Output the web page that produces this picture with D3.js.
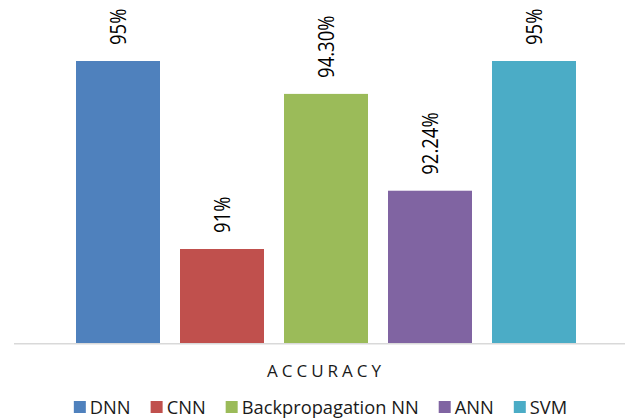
<!DOCTYPE html>
<html>
<head>
<meta charset="utf-8">
<script src="https://cdn.jsdelivr.net/npm/d3@7"></script>
<style>
  html, body { margin: 0; padding: 0; background: #fff; }
  svg { display: block; font-family: "Open Sans", sans-serif; }
</style>
</head>
<body>
<div id="chart"></div>
<script>
// chart data
var series = ["DNN", "CNN", "Backpropagation NN", "ANN", "SVM"];
var values = [95, 91, 94.30, 92.24, 95];
var labels = ["95%", "91%", "94.30%", "92.24%", "95%"];
var colors = ["#4F81BD", "#C0504D", "#9BBB59", "#8064A2", "#4BACC6"];
var category = "ACCURACY";

var width = 625, height = 419;
var baseY = 343;

var svg = d3.select("#chart").append("svg")
    .attr("width", width)
    .attr("height", height);

var x = d3.scaleBand()
    .domain(series)
    .range([66, 586])
    .paddingInner(20 / 104)
    .paddingOuter(10 / 104);

var y = d3.scaleLinear()
    .domain([89, 96])
    .range([baseY, 14]);

// bars
svg.append("g").selectAll("rect")
    .data(series)
    .enter().append("rect")
    .attr("x", function(d) { return x(d); })
    .attr("y", function(d, i) { return y(values[i]); })
    .attr("width", x.bandwidth())
    .attr("height", function(d, i) { return baseY - y(values[i]); })
    .style("fill", function(d, i) { return colors[i]; });

// category axis line
svg.append("line")
    .attr("x1", 14)
    .attr("x2", width)
    .attr("y1", baseY + 0.75)
    .attr("y2", baseY + 0.75)
    .style("stroke", "#d9d9d9")
    .style("stroke-width", 1.5);

// data labels, rotated
svg.append("g").selectAll("text")
    .data(series)
    .enter().append("text")
    .attr("transform", function(d, i) {
        var cx = x(d) + x.bandwidth() / 2 + 8;
        var ty = y(values[i]) - 16;
        return "translate(" + cx + "," + ty + ") rotate(-90) scale(1,1.2)";
    })
    .attr("text-anchor", "start")
    .style("font-size", "18.5px")
    .style("fill", "#000")
    .text(function(d, i) { return labels[i]; });

// category title (half the trailing letter spacing added to x)
svg.append("text")
    .attr("x", 326)
    .attr("y", 377)
    .attr("text-anchor", "middle")
    .style("font-size", "17px")
    .style("letter-spacing", "4px")
    .style("fill", "#1a1a1a")
    .text(category);

// legend
var legend = svg.append("g");
var cursor = 0;
series.forEach(function(name, i) {
    var item = legend.append("g").attr("transform", "translate(" + cursor + ",0)");
    item.append("rect")
        .attr("x", 0)
        .attr("y", 401)
        .attr("width", 12)
        .attr("height", 12)
        .style("fill", colors[i]);
    var t = item.append("text")
        .attr("x", 16)
        .attr("y", 413.5)
        .style("font-size", "18.3px")
        .style("fill", "#1a1a1a")
        .text(name);
    cursor += 16 + t.node().getComputedTextLength() + 20;
});
var legendWidth = cursor - 20;
legend.attr("transform", "translate(" + (320.5 - legendWidth / 2) + ",0)");
</script>
</body>
</html>
